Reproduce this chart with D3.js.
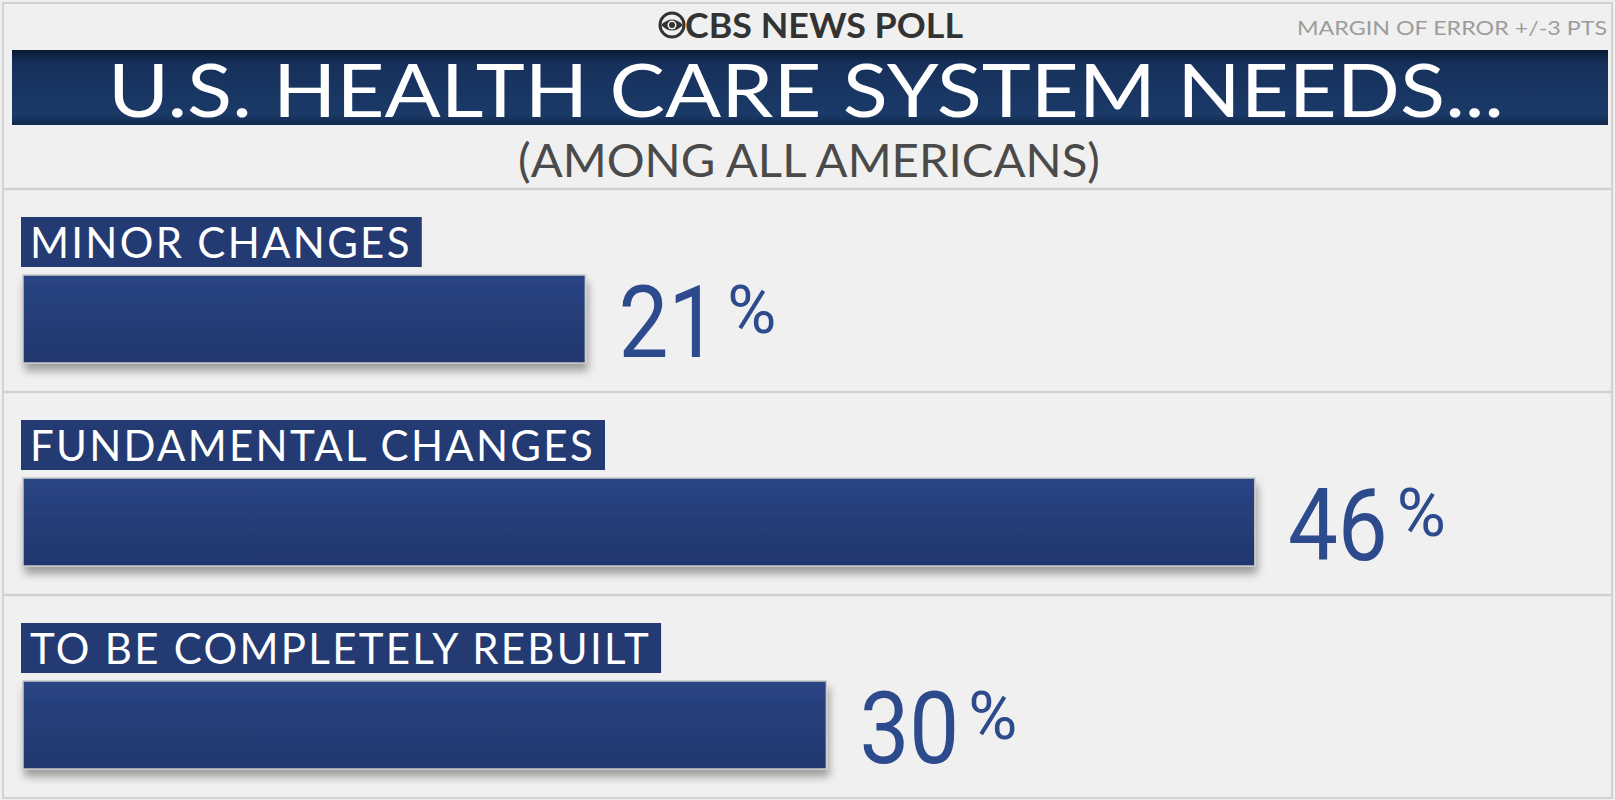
<!DOCTYPE html>
<html>
<head>
<meta charset="utf-8">
<script src="https://cdn.jsdelivr.net/npm/d3@7"></script>
<style>
    body { margin: 0; background: #efefef; }
    #the_chart { width: 1615px; height: 800px; }
</style>
</head>
<body>
<div id="the_chart"></div>
<script>
const categories = ["MINOR CHANGES", "FUNDAMENTAL CHANGES", "TO BE COMPLETELY REBUILT"];
const values = [21, 46, 30];
const brand = "CBS NEWS POLL";
const margin = "MARGIN OF ERROR +/-3 PTS";
const title = "U.S. HEALTH CARE SYSTEM NEEDS...";
const subtitle = "(AMONG ALL AMERICANS)";

var w = 1615, h = 800;
var rows = categories.map((c, i) => ({ label: c, value: values[i] }));

var svg = d3.select("#the_chart")
    .append("svg")
    .attr("width", w)
    .attr("height", h);

var defs = svg.append("defs");

// bar gradient, a touch lighter at the top
var barGrad = defs.append("linearGradient")
    .attr("id", "barGrad").attr("x1", 0).attr("y1", 0).attr("x2", 0).attr("y2", 1);
barGrad.append("stop").attr("offset", "0%").attr("stop-color", "#2a4584");
barGrad.append("stop").attr("offset", "100%").attr("stop-color", "#21366d");

var bannerGrad = defs.append("linearGradient")
    .attr("id", "bannerGrad").attr("x1", 0).attr("y1", 0).attr("x2", 0).attr("y2", 1);
bannerGrad.append("stop").attr("offset", "0%").attr("stop-color", "#0b1a34");
bannerGrad.append("stop").attr("offset", "18%").attr("stop-color", "#16305a");
bannerGrad.append("stop").attr("offset", "85%").attr("stop-color", "#1b3a68");
bannerGrad.append("stop").attr("offset", "100%").attr("stop-color", "#132a4e");

var shadow = defs.append("filter").attr("id", "shadow")
    .attr("x", "-5%").attr("y", "-20%").attr("width", "110%").attr("height", "160%");
shadow.append("feDropShadow")
    .attr("dx", 2).attr("dy", 7).attr("stdDeviation", 4)
    .attr("flood-color", "#000").attr("flood-opacity", 0.35);

/* BACKGROUND + HEADER */

svg.append("rect")
    .attr("x", 3).attr("y", 3).attr("width", w - 6).attr("height", h - 5)
    .attr("fill", "#f0f0f0")
    .attr("stroke", "#d2d2d2").attr("stroke-width", 2);

// cbs eye
var eye = svg.append("g").attr("transform", "translate(672,25)");
eye.append("circle").attr("r", 12).attr("fill", "none").attr("stroke", "#333").attr("stroke-width", 3);
eye.append("path")
    .attr("d", "M-11,0 Q0,-11 11,0 Q0,11 -11,0 Z")
    .attr("fill", "#333");
eye.append("circle").attr("r", 4.5).attr("fill", "#f0f0f0");
eye.append("circle").attr("r", 3).attr("fill", "#333");

svg.append("text")
    .attr("x", 685).attr("y", 38)
    .attr("font-family", "Lato, sans-serif")
    .attr("font-weight", 700)
    .attr("font-size", 35)
    .attr("fill", "#333")
    .attr("textLength", 278).attr("lengthAdjust", "spacingAndGlyphs")
    .text(brand);

svg.append("text")
    .attr("x", 1297).attr("y", 35)
    .attr("font-family", "Lato, sans-serif")
    .attr("font-size", 19)
    .attr("fill", "#9c9c9c")
    .attr("textLength", 310).attr("lengthAdjust", "spacingAndGlyphs")
    .text(margin);

svg.append("rect")
    .attr("x", 12).attr("y", 50).attr("width", 1596).attr("height", 75)
    .attr("fill", "url(#bannerGrad)");

svg.append("text")
    .attr("x", 108).attr("y", 117)
    .attr("font-family", "Lato, sans-serif")
    .attr("font-size", 74)
    .attr("fill", "#fff")
    .attr("textLength", 1396).attr("lengthAdjust", "spacingAndGlyphs")
    .text(title);

svg.append("text")
    .attr("x", 518).attr("y", 177)
    .attr("font-family", "Lato, sans-serif")
    .attr("font-size", 47)
    .attr("fill", "#4a4a4a")
    .attr("textLength", 582).attr("lengthAdjust", "spacingAndGlyphs")
    .text(subtitle);

/* SCALES */

var yscale = d3.scaleBand()
    .domain(categories)
    .range([189, 798]);

var xscale = d3.scaleLinear()
    .domain([0, 50])
    .range([23, 1362]);

/* ROWS */

var row = svg.selectAll("g.row")
    .data(rows)
    .enter().append("g")
    .attr("class", "row")
    .attr("transform", d => "translate(0," + yscale(d.label) + ")");

// separator line at the top of every row
row.append("line")
    .attr("x1", 4).attr("x2", w - 4)
    .attr("y1", 0).attr("y2", 0)
    .attr("stroke", "#d0d0d0").attr("stroke-width", 2.5);

// label box, sized to the text
row.each(function (d) {
    var g = d3.select(this);
    var box = g.append("rect")
        .attr("x", 21).attr("y", 28).attr("height", 50)
        .attr("fill", "#233a73");
    var t = g.append("text")
        .attr("x", 30).attr("y", 69)
        .attr("font-family", "Lato, sans-serif")
        .attr("font-size", 42)
        .attr("letter-spacing", 2.3)
        .attr("fill", "#fff")
        .text(d.label);
    var tw = t.node().getComputedTextLength();
    box.attr("width", tw + 19);
});

// bars
row.append("rect")
    .attr("x", xscale(0))
    .attr("y", 86)
    .attr("width", d => xscale(d.value) - xscale(0))
    .attr("height", 88)
    .attr("fill", "url(#barGrad)")
    .attr("stroke", "#c9c9c9").attr("stroke-width", 1.5)
    .attr("filter", "url(#shadow)");

// value labels, narrow like the DIN style of the original
row.each(function (d) {
    var g = d3.select(this);
    var x0 = xscale(d.value) + 33;
    var num = g.append("text")
        .attr("transform", "translate(" + x0 + ",168) scale(0.88,1)")
        .attr("font-family", "Roboto, sans-serif")
        .attr("font-size", 101)
        .attr("fill", "#2c4a8c")
        .text(d.value);
    var nw = num.node().getComputedTextLength() * 0.88;
    g.append("text")
        .attr("x", x0 + nw + 9)
        .attr("y", 144)
        .attr("font-family", "Roboto, sans-serif")
        .attr("font-size", 67)
        .attr("fill", "#2c4a8c")
        .text("%");
});
</script>
</body>
</html>
